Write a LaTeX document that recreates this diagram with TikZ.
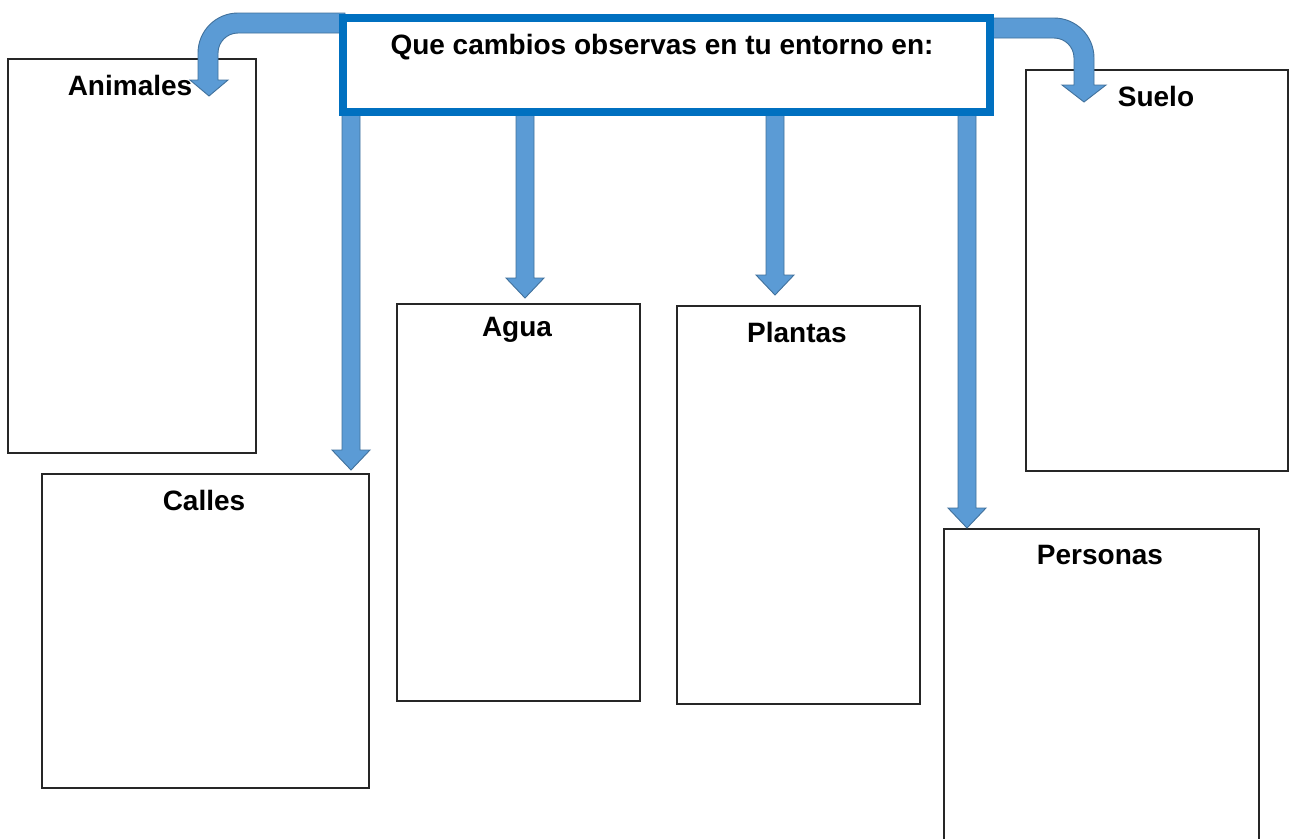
\documentclass[tikz,border=0pt]{standalone}
\usepackage{fontspec}
\setmainfont{Liberation Sans}
\begin{document}
\begin{tikzpicture}[x=1pt,y=-1pt,
  card/.style={draw=black!85, line width=1.6pt, fill=white, rectangle, inner sep=0pt, anchor=north west},
  cardlabel/.style={font=\bfseries\fontsize{28}{32}\selectfont, anchor=center, inner sep=0pt},
  blockarr/.style={fill=arrfill, draw=arredge, line width=0.9pt, line join=miter},
  titlebox/.style={draw=titleblue, line width=8pt, fill=white, rectangle, inner sep=0pt, anchor=north west}
]
\definecolor{arrfill}{HTML}{5B9BD5}
\definecolor{arredge}{HTML}{41719C}
\definecolor{titleblue}{HTML}{0070C0}
\useasboundingbox (0,0) rectangle (1293,838);
\clip (0,0) rectangle (1293,838);
\fill[white] (0,0) rectangle (1293,838);

% boxes
\node[card, minimum width=248pt, minimum height=394pt] (animales) at (7,58) {};
\node[card, minimum width=327pt, minimum height=314pt] (calles) at (41,473) {};
\node[card, minimum width=243pt, minimum height=397pt] (agua) at (396,303) {};
\node[card, minimum width=243pt, minimum height=398pt] (plantas) at (676,305) {};
\node[card, minimum width=262pt, minimum height=401pt] (suelo) at (1025,69) {};
\node[card, minimum width=315pt, minimum height=330pt] (personas) at (943,528) {};

% labels
\node[cardlabel] (lanimales) at (130,85) {Animales};
\node[cardlabel] (lcalles) at (204,500) {Calles};
\node[cardlabel] (lagua) at (517,330) {Agua};
\node[cardlabel] (lplantas) at (797,332) {Plantas};
\node[cardlabel] (lsuelo) at (1156,96) {Suelo};
\node[cardlabel] (lpersonas) at (1100,555) {Personas};

% curved arrow to Animales
\draw[blockarr] (345,13) -- (238,13) arc[start angle=270, end angle=180, radius=40]
  -- (198,80) -- (190,80) -- (209,96) -- (228,80) -- (218,80) -- (218,53)
  arc[start angle=180, end angle=270, radius=20] -- (345,33) -- cycle;
% curved arrow to Suelo
\draw[blockarr] (980,18) -- (1054,18) arc[start angle=270, end angle=360, radius=40]
  -- (1094,85) -- (1106,85) -- (1084,102) -- (1062,85) -- (1074,85) -- (1074,58)
  arc[start angle=0, end angle=-90, radius=20] -- (980,38) -- cycle;

% straight arrows
\newcommand{\downarr}[4]{% x, ytop, yheadtop, ytip
  \draw[blockarr] (#1-9,#2) -- (#1+9,#2) -- (#1+9,#3) -- (#1+19,#3) -- (#1,#4)
   -- (#1-19,#3) -- (#1-9,#3) -- cycle;}
\downarr{351}{105}{450}{470}
\downarr{525}{105}{278}{298}
\downarr{775}{105}{275}{295}
\downarr{967}{105}{508}{528}

% title box
\node[titlebox, minimum width=647pt, minimum height=94pt] (title) at (339,14) {};
\node[font=\bfseries\fontsize{28}{32}\selectfont, inner sep=0pt] (ttext) at (662,47) {Que cambios observas en tu entorno en:};
\end{tikzpicture}
\end{document}
